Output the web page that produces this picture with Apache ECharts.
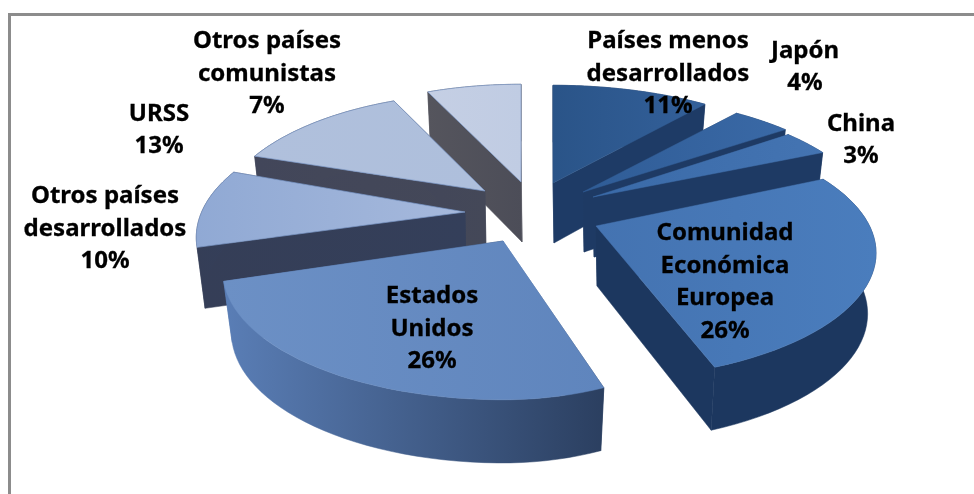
<!DOCTYPE html>
<html><head><meta charset="utf-8">
<style>html,body{margin:0;padding:0;background:#fff}#c{width:974px;height:494px}</style>
<script src="https://cdn.jsdelivr.net/npm/echarts@6/dist/echarts.min.js"></script>
</head><body><div id="c"></div>
<script>
// Data. Slice sizes are estimated; labels show them rounded.
const categories = ['Países menos\ndesarrollados','Japón','China','Comunidad\nEconómica\nEuropea','Estados\nUnidos','Otros países\ndesarrollados','URSS','Otros países\ncomunistas'];
const shareValues = [11,4,3.4,26.1,25.5,10,13,7];

// Layout, kept apart from the data
const APEX = [[553,183],[583,192],[593,197],[596,226],[503,241],[465,212],[485,191],[521,182]];
const ARC_SHIFT = [[0,0],[0,0],[0,0],[0,-3],[0,0],[0,-5],[0,0],[0,0]];
const RX_RIGHT = [282,285,275,272,231,261,260,266];
const RX_LEFT  = [282,285,275,272,272,261,260,266];
const RY_SLICE = [121,121,121,119,121,121,121,121];
const LABEL_POS = [[668,74],[805,67],[861,140],[725,282],[432,329],[105,229],[159,130],[267,74]];
const TOP_COL = [['#2a5488','#33609a'],['#2f5c96','#3a69a6'],['#3a6aa8','#4474b2'],['#4473b1','#4a7dbd'],['#6c90c5','#5f85bd'],['#90a9d4','#a6b9dc'],['#b0c0dc','#aebfdc'],['#c5cfe4','#c0cce3']];
const WALL_COL = [['#1e3b66','#1e3b66'],['#1e3a64','#1e3a64'],['#1e3a64','#1e3a64'],['#1c375f','#1c375f'],['#5a7eb6','#2b3f60'],['#353e57','#343f5a'],['#42465a','#444858'],['#55555d','#4c4d58']];
const DRAW_ORDER = [7,6,5,4,0,1,2,3];
const PERSP = 0.238, DEPTH = 60, BOTTOM_X = 0.97;

const total = shareValues.reduce((a,b)=>a+b,0);
const starts = []; shareValues.reduce((acc,v,i)=>{starts[i]=acc;return acc+v;},0);
function plane(i,th){
  const w=1+PERSP*Math.cos(th), s=Math.sin(th);
  return [(s>0?RX_RIGHT[i]:RX_LEFT[i])*s/w,-RY_SLICE[i]*Math.cos(th)/w];
}
function topPt(i,th){const p=plane(i,th);return [APEX[i][0]+ARC_SHIFT[i][0]+p[0],APEX[i][1]+ARC_SHIFT[i][1]+p[1]];}
function botPt(i,th){const p=plane(i,th);return [APEX[i][0]+ARC_SHIFT[i][0]+p[0]*BOTTOM_X,APEX[i][1]+ARC_SHIFT[i][1]+p[1]+DEPTH/(1+0.05*Math.cos(th))];}
function grad(c){return new echarts.graphic.LinearGradient(0,0,1,0,[{offset:0,color:c[0]},{offset:1,color:c[1]}]);}

function renderItem(params,api){
  const idx=api.value(1), val=api.value(0), a=APEX[idx];
  const t1=starts[idx]/total*2*Math.PI, t2=t1+val/total*2*Math.PI;
  const N=40, arc=[], barc=[];
  for(let i=0;i<=N;i++){const t=t1+(t2-t1)*i/N;arc.push(topPt(idx,t));barc.push(botPt(idx,t));}
  const bApex=[a[0]+1,a[1]+DEPTH];
  const wall=grad(WALL_COL[idx]);
  const poly=(pts,fill,stroke)=>({type:'polygon',shape:{points:pts},style:{fill:fill,stroke:stroke||fill,lineWidth:stroke?0.7:0.5}});
  const kids=[
    poly([a,arc[0],barc[0],bApex],wall),
    poly([a,arc[N],barc[N],bApex],wall),
    poly(arc.concat(barc.slice().reverse()),wall),
    poly([a].concat(arc),grad(TOP_COL[idx]),idx>=5?'#7d9ac8':null)
  ];
  return {type:'group',children:kids};
}

const chart=echarts.init(document.getElementById('c'),null,{renderer:'canvas'});
const FONT={fontFamily:'"Noto Sans"',fontWeight:'bold',fontSize:24,lineHeight:32.5,fill:'#000',stroke:'#000',lineWidth:0.3,align:'center',verticalAlign:'middle'};
chart.setOption({
  animation:false,
  backgroundColor:'#fff',
  graphic:[
    {type:'rect',z:0,shape:{x:9.5,y:14.5,width:980,height:500},style:{fill:'#fff',stroke:'#8c8c8c',lineWidth:3}}
  ],
  series:[
    {type:'custom',coordinateSystem:'none',z:2,renderItem:renderItem,
     data:DRAW_ORDER.map(i=>({name:categories[i],value:[shareValues[i],i]}))},
    {type:'custom',coordinateSystem:'none',z:3,
     renderItem:function(p,api){
       const i=api.value(1);
       const pos=LABEL_POS[i];
       return {type:'text',style:Object.assign({},FONT,{x:pos[0],y:pos[1],text:categories[i]+'\n'+Math.round(api.value(0))+'%'})};
     },
     data:categories.map((c,i)=>({name:c,value:[shareValues[i],i]}))}
  ]
});
</script></body></html>
